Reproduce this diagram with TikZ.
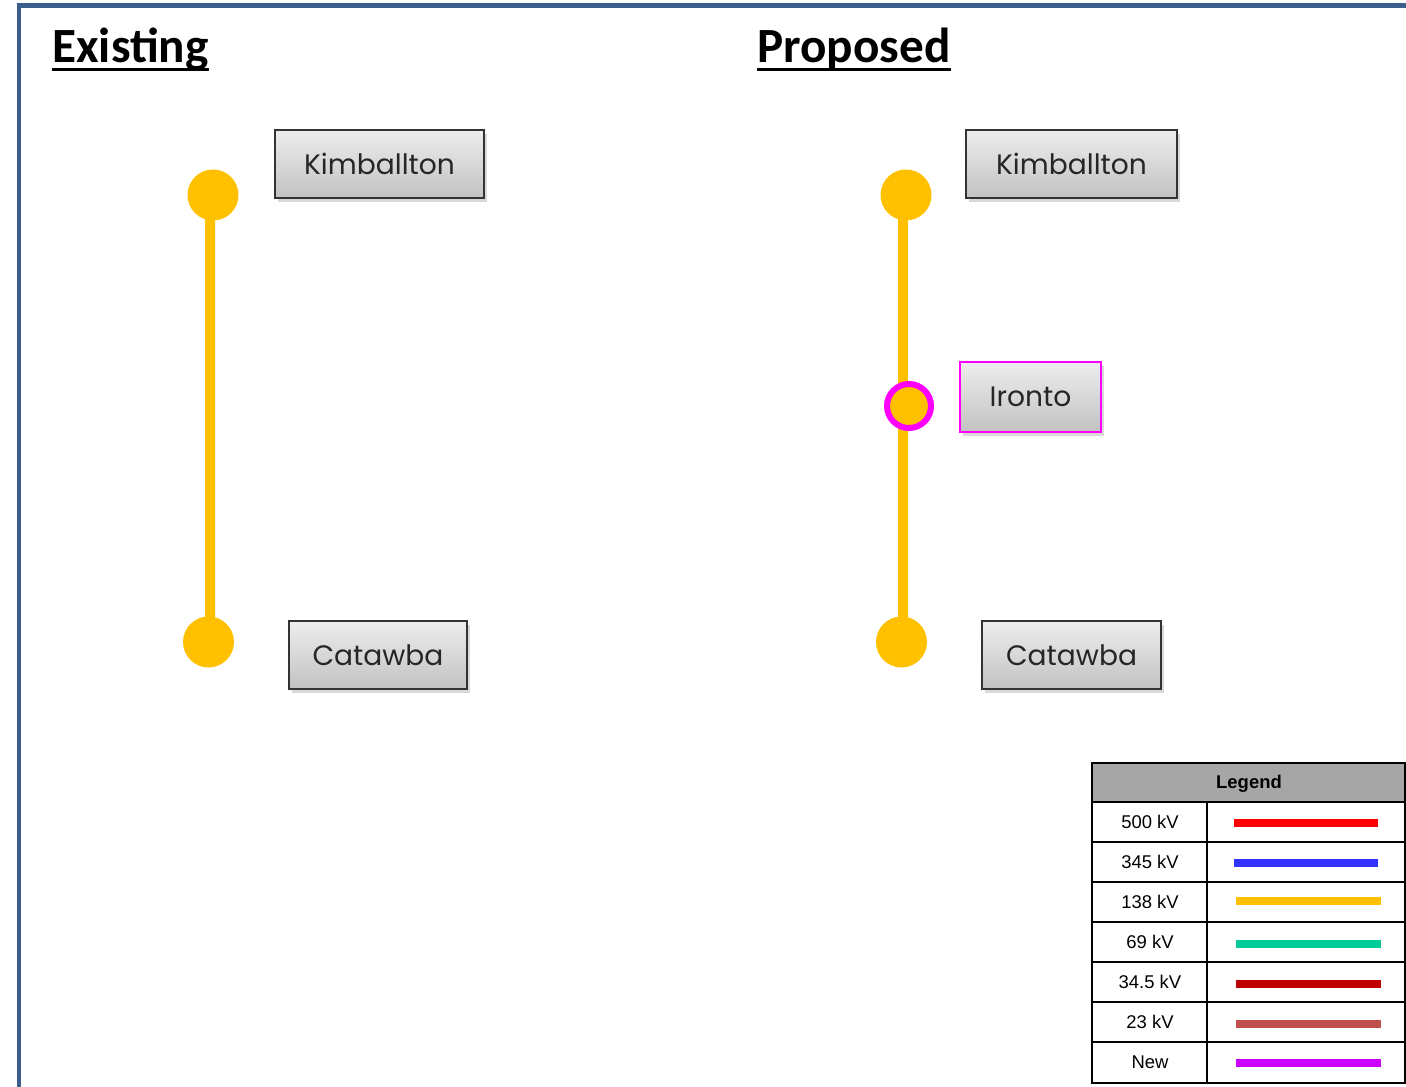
\documentclass[tikz,border=0pt]{standalone}
\usepackage{fontspec}
\setmainfont{Liberation Sans}
\newfontfamily\titlefont{Carlito}
\newfontfamily\boxfont{Poppins}
\usetikzlibrary{shadows,backgrounds}
\newdimen\pxu \pxu=0.02cm
\definecolor{frameblue}{HTML}{3B5E8C}
\definecolor{lineyellow}{HTML}{FFC000}
\definecolor{newmag}{HTML}{FF00FF}
\definecolor{legendgray}{HTML}{A6A6A6}
\definecolor{kvfivehundred}{HTML}{FF0000}
\definecolor{kvthreefourfive}{HTML}{3333FF}
\definecolor{kvsixtynine}{HTML}{00CC99}
\definecolor{kvthirtyfour}{HTML}{C00000}
\definecolor{kvtwentythree}{HTML}{C0504D}
\definecolor{kvnew}{HTML}{CC00FF}
\begin{document}
\begin{tikzpicture}[x=0.02cm,y=-0.02cm,
  titletext/.style={anchor=base west, inner sep=0, font=\titlefont\bfseries\fontsize{28}{32}\selectfont},
  station/.style={draw=black!80, line width=1.6\pxu, top color=black!7, bottom color=black!24,
    drop shadow={shadow xshift=1.5pt, shadow yshift=-2.5pt, opacity=0.3},
    font=\boxfont\fontsize{16}{19}\selectfont, text=black!85, inner sep=0},
  dot/.style={circle, fill=lineyellow, minimum size=51\pxu, inner sep=0},
  newdot/.style={circle, fill=lineyellow, draw=newmag, line width=6\pxu, minimum size=44\pxu, inner sep=0},
  busline/.style={lineyellow, line width=10\pxu},
  legtext/.style={font=\fontsize{10.5}{12}\selectfont, inner sep=0},
  swatch/.style={line width=8\pxu}]
\useasboundingbox (0,0) rectangle (1406,1087);
\clip (0,0) rectangle (1406,1087);
% frame
\draw[frameblue, line width=4.5\pxu] (19,1200) -- (19,5.5) -- (1500,5.5);
% titles
\node[titletext] (ex) at (52,63) {Existing};
\draw[line width=3\pxu] ([yshift=-6.5\pxu]ex.base west) -- ([yshift=-6.5\pxu]ex.base east);
\node[titletext] (pr) at (757,63) {Proposed};
\draw[line width=3\pxu] ([yshift=-6.5\pxu]pr.base west) -- ([yshift=-6.5\pxu]pr.base east);
% existing
\node[station, minimum width=209\pxu, minimum height=68\pxu] (eKb) at (379.5,164) {Kimballton};
\node[station, minimum width=178\pxu, minimum height=68\pxu] (eCb) at (378,655) {Catawba};
\node[dot] (eK) at (213,195) {};
\node[dot] (eC) at (208.5,642) {};
\begin{pgfonlayer}{background}
\draw[busline] ([xshift=-3\pxu]eK.center) -- ([xshift=1.5\pxu]eC.center);
\end{pgfonlayer}
% proposed
\node[station, minimum width=211\pxu, minimum height=68\pxu] (pKb) at (1071.5,164) {Kimballton};
\node[station, minimum width=179\pxu, minimum height=68\pxu] (pCb) at (1071.5,655) {Catawba};
\node[station, draw=newmag, minimum width=141\pxu, minimum height=70\pxu] (pIb) at (1030.5,397) {Ironto};
\node[dot] (pK) at (906,195) {};
\node[dot] (pC) at (901.5,642) {};
\node[newdot] (pI) at (909,406) {};
\begin{pgfonlayer}{background}
\draw[busline] ([xshift=-3\pxu]pK.center) -- ([xshift=-6\pxu]pI.center);
\draw[busline] ([xshift=-6\pxu]pI.center) -- ([xshift=1.5\pxu]pC.center);
\end{pgfonlayer}
% legend
\fill[legendgray] (1092,763) rectangle (1405,802);
\draw[line width=2.5\pxu] (1092,763) rectangle (1405,1083);
\foreach \yy in {802,842,882,922,962,1002,1042}
  \draw[line width=2.5\pxu] (1092,\yy) -- (1405,\yy);
\draw[line width=2.5\pxu] (1207,802) -- (1207,1083);
\node[legtext, font=\bfseries\fontsize{10.5}{12}\selectfont] (lg) at (1249,784) {Legend};
\node[legtext] (l1) at (1150,822) {500 kV};
\node[legtext] (l2) at (1150,862) {345 kV};
\node[legtext] (l3) at (1150,902) {138 kV};
\node[legtext] (l4) at (1150,942) {69 kV};
\node[legtext] (l5) at (1150,982) {34.5 kV};
\node[legtext] (l6) at (1150,1022) {23 kV};
\node[legtext] (l7) at (1150,1062) {New};
\draw[swatch, kvfivehundred] (1234,823) -- (1378,823);
\draw[swatch, kvthreefourfive] (1234,863) -- (1378,863);
\draw[swatch, lineyellow] (1236,901) -- (1381,901);
\draw[swatch, kvsixtynine] (1236,944) -- (1381,944);
\draw[swatch, kvthirtyfour] (1236,984) -- (1381,984);
\draw[swatch, kvtwentythree] (1236,1024) -- (1381,1024);
\draw[swatch, kvnew] (1236,1063) -- (1381,1063);
\end{tikzpicture}
\end{document}
